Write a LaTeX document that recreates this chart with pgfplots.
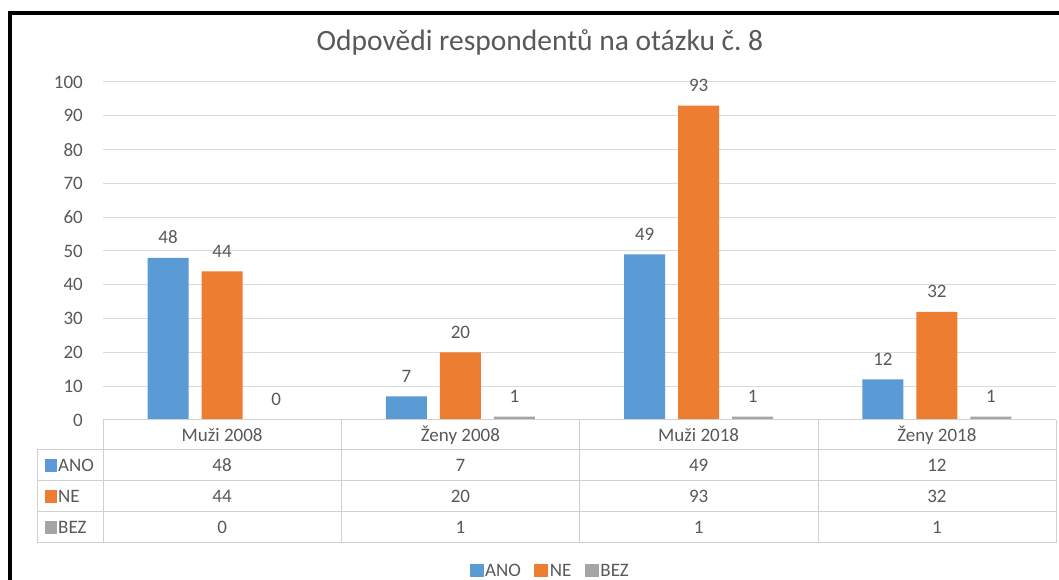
\documentclass[border=0pt]{standalone}
\usepackage{fontspec}
\setmainfont{Carlito}
\usepackage{pgfplots}
\usepackage{pgfplotstable}
\pgfplotsset{compat=1.18}
\definecolor{ano}{HTML}{5B9BD5}
\definecolor{ne}{HTML}{ED7D31}
\definecolor{bez}{HTML}{A5A5A5}
\definecolor{txt}{HTML}{595959}
\definecolor{grid}{HTML}{D9D9D9}
\definecolor{tbl}{HTML}{D0D0D0}
\pgfplotstableread{
x ANO NE BEZ
0 48 44 0
1 7 20 1
2 49 93 1
3 12 32 1
}\data
\begin{document}
\begin{tikzpicture}[x=1pt,y=1pt]
\path[use as bounding box, fill=white] (0,0) rectangle (1059,580);
% frame
\draw[black, line width=4pt] (8,567) -- (1059,567);
\draw[black, line width=4pt] (10,569) -- (10,0);
% title
\node[text=txt, font=\fontsize{29.5}{33}\selectfont] at (540,538) {Odpovědi respondentů na otázku č.\ 8};
\begin{axis}[
  at={(103pt,160pt)}, anchor=south west,
  scale only axis, width=953pt, height=338pt,
  xmin=-0.5, xmax=3.5, ymin=0, ymax=100,
  clip=false,
  axis line style={draw=none},
  major tick length=0pt,
  ytick={0,10,...,100},
  ymajorgrids, grid style={color=grid, line width=1pt},
  xtick={0,1,2,3},
  xticklabels={Muži 2008, Ženy 2008, Muži 2018, Ženy 2018},
  x tick label style={anchor=center, yshift=-15pt},
  y tick label style={anchor=east, inner sep=0pt, xshift=-20pt},
  tick label style={text=txt, font=\fontsize{19}{22}\selectfont},
  /pgf/number format/assume math mode=true,
  nodes near coords style={text=txt, font=\fontsize{19}{22}\selectfont},
  legend style={at={(0.4690,-0.4470)}, anchor=center, draw=none, fill=none,
    legend columns=3, font=\fontsize{19}{22}\selectfont, text=txt,
    inner sep=0pt,
    /tikz/every even column/.append style={column sep=12pt},
    nodes={inner xsep=1.5pt, inner ysep=0pt}},
  legend image code/.code={\fill[#1] (0pt,-6pt) rectangle (14pt,7pt);},
]
\addplot[ybar, bar width=41pt, bar shift=-54pt, fill=ano, draw=none,
  nodes near coords, every node near coord/.append style={anchor=south, inner sep=0pt, yshift=14pt, xshift=-54pt}]
  table[x=x, y=ANO]{\data};
\addlegendentry{ANO}
\addplot[ybar, bar width=41pt, bar shift=0pt, fill=ne, draw=none,
  nodes near coords, every node near coord/.append style={anchor=south, inner sep=0pt, yshift=14pt}]
  table[x=x, y=NE]{\data};
\addlegendentry{NE}
\addplot[ybar, bar width=41pt, bar shift=54pt, fill=bez, draw=none,
  nodes near coords, every node near coord/.append style={anchor=south, inner sep=0pt, yshift=14pt, xshift=54pt}]
  table[x=x, y=BEZ]{\data};
\addlegendentry{BEZ}
% data table values
\addplot[forget plot, draw=none, mark=none, point meta=explicit,
  nodes near coords, every node near coord/.append style={anchor=center, inner sep=0pt}]
  table[x=x, y expr=-13.46, meta=ANO]{\data};
\addplot[forget plot, draw=none, mark=none, point meta=explicit,
  nodes near coords, every node near coord/.append style={anchor=center, inner sep=0pt}]
  table[x=x, y expr=-22.63, meta=NE]{\data};
\addplot[forget plot, draw=none, mark=none, point meta=explicit,
  nodes near coords, every node near coord/.append style={anchor=center, inner sep=0pt}]
  table[x=x, y expr=-31.66, meta=BEZ]{\data};
\end{axis}
% data table grid
\begin{scope}[tbl, line width=1pt]
\draw (103,160) -- (1056,160);
\draw (37,130) -- (1056,130);
\draw (37,99) -- (1056,99);
\draw (37,68) -- (1056,68);
\draw (37,37) -- (1056,37);
\draw (37,130) -- (37,37);
\foreach \xx in {103,341,579,818,1056} {\draw (\xx,160) -- (\xx,37);}
\end{scope}
% row keys
\fill[ano] (45,108) rectangle (57,121);
\fill[ne] (45,77) rectangle (57,90);
\fill[bez] (45,46) rectangle (57,59);
\begin{scope}[every node/.style={text=txt, font=\fontsize{19}{22}\selectfont, anchor=west, inner sep=0pt}]
\node at (58,114.5) {ANO};
\node at (58,83.5) {NE};
\node at (58,53) {BEZ};
\end{scope}
\end{tikzpicture}
\end{document}
